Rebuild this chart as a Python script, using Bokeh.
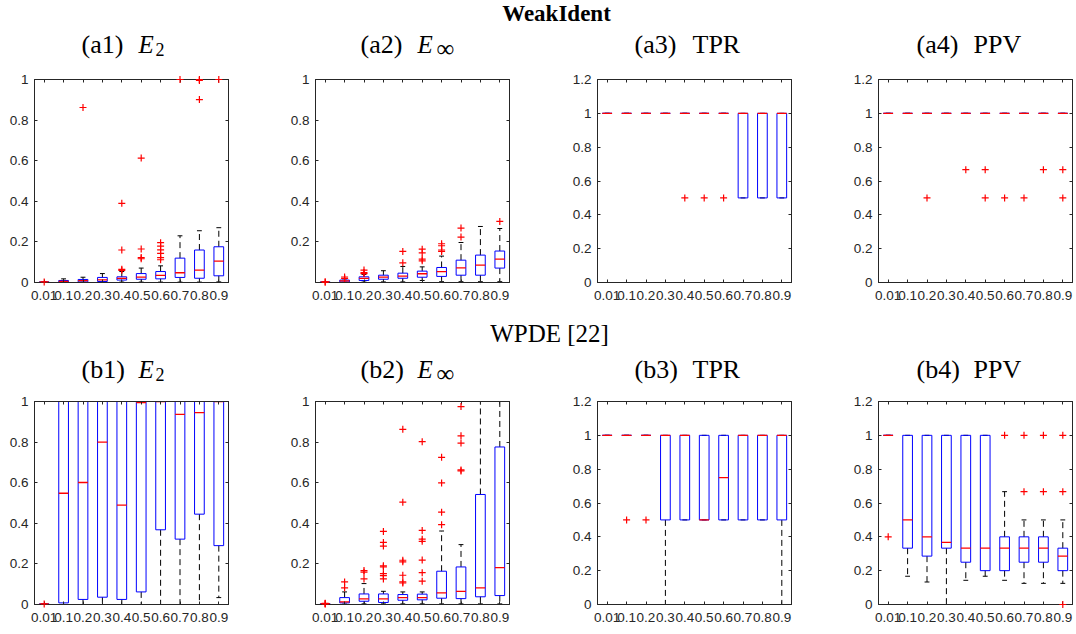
from bokeh.plotting import figure
from bokeh.layouts import column, row
from bokeh.models import Range1d, FixedTicker, LinearAxis, NumeralTickFormatter, ColumnDataSource
from bokeh.transform import dodge
from bokeh.core.properties import value
from bokeh.embed import file_html
from bokeh.resources import INLINE

# ---------------- data ----------------
NOISE_LABELS = ["0.01", "0.1", "0.2", "0.3", "0.4", "0.5", "0.6", "0.7", "0.8", "0.9"]
NOISE_POS = [1, 2, 3, 4, 5, 6, 7, 8, 9, 10]

Y_TICKS_E2 = [0, 0.2, 0.4, 0.6, 0.8, 1]
Y_TICKS_EINF = [0.2, 0.4, 0.6, 0.8, 1]
Y_TICKS_RATE = [0, 0.2, 0.4, 0.6, 0.8, 1, 1.2]

# (a1) WeakIdent E2
A1_Q1 = [0.001, 0.003, 0.003, 0.005, 0.012, 0.016, 0.018, 0.025, 0.021, 0.033]
A1_MED = [0.002, 0.006, 0.009, 0.013, 0.020, 0.026, 0.035, 0.048, 0.061, 0.105]
A1_Q3 = [0.003, 0.010, 0.015, 0.025, 0.028, 0.044, 0.054, 0.120, 0.160, 0.176]
A1_WLO = [0.001, 0.001, 0.001, 0.001, 0.002, 0.002, 0.002, 0.002, 0.002, 0.003]
A1_WHI = [0.004, 0.018, 0.026, 0.044, 0.054, 0.071, 0.082, 0.230, 0.255, 0.270]
A1_OUT = [[0.003], [], [0.862], [], [0.39, 0.16, 0.065, 0.06], [0.613, 0.165, 0.123, 0.117],
          [0.196, 0.179, 0.161, 0.143, 0.123, 0.112], [1.0], [1.0, 0.995, 0.901], [1.0]]

# (a2) WeakIdent Einf
A2_Q1 = [0.001, 0.003, 0.010, 0.016, 0.021, 0.026, 0.030, 0.036, 0.036, 0.071]
A2_MED = [0.002, 0.008, 0.020, 0.026, 0.031, 0.043, 0.054, 0.072, 0.086, 0.115]
A2_Q3 = [0.003, 0.012, 0.028, 0.036, 0.046, 0.056, 0.074, 0.110, 0.135, 0.155]
A2_WLO = [0.001, 0.001, 0.002, 0.003, 0.003, 0.010, 0.004, 0.004, 0.004, 0.004]
A2_WHI = [0.004, 0.018, 0.040, 0.058, 0.079, 0.077, 0.130, 0.197, 0.276, 0.266]
A2_OUT = [[0.003, 0.002], [0.027, 0.02], [0.061, 0.049, 0.044], [], [0.153, 0.097],
          [0.164, 0.146, 0.115, 0.107], [0.191, 0.181, 0.16, 0.153], [0.268, 0.224], [], [0.301]]

# (a3) WeakIdent TPR
A3_Q1 = [1, 1, 1, 1, 1, 1, 1, 0.5, 0.5, 0.5]
A3_MED = [1, 1, 1, 1, 1, 1, 1, 1, 1, 1]
A3_Q3 = [1, 1, 1, 1, 1, 1, 1, 1, 1, 1]
A3_WLO = [1, 1, 1, 1, 1, 1, 1, 0.5, 0.5, 0.5]
A3_WHI = [1, 1, 1, 1, 1, 1, 1, 1, 1, 1]
A3_OUT = [[], [], [], [], [0.5], [0.5], [0.5], [], [], []]

# (a4) WeakIdent PPV
A4_Q1 = [1, 1, 1, 1, 1, 1, 1, 1, 1, 1]
A4_MED = [1, 1, 1, 1, 1, 1, 1, 1, 1, 1]
A4_Q3 = [1, 1, 1, 1, 1, 1, 1, 1, 1, 1]
A4_WLO = [1, 1, 1, 1, 1, 1, 1, 1, 1, 1]
A4_WHI = [1, 1, 1, 1, 1, 1, 1, 1, 1, 1]
A4_OUT = [[], [], [0.5], [], [0.667], [0.667, 0.5], [0.5], [0.5], [0.667], [0.667, 0.5]]

# (b1) WPDE E2
B1_Q1 = [0.001, 0.008, 0.025, 0.036, 0.025, 0.062, 0.368, 0.322, 0.445, 0.290]
B1_MED = [0.002, 0.548, 0.601, 0.800, 0.490, 0.995, 1.0, 0.937, 0.945, 1.0]
B1_Q3 = [0.003, 1, 1, 1, 1, 1, 1, 1, 1, 1]
B1_WLO = [0.001, 0, 0, 0, 0, 0, 0, 0, 0, 0.034]
B1_WHI = [0.003, 1, 1, 1, 1, 1, 1, 1, 1, 1]
B1_OUT = [[0.003], [], [], [], [], [], [], [], [], []]

# (b2) WPDE Einf
B2_Q1 = [0.002, 0.008, 0.016, 0.010, 0.021, 0.023, 0.031, 0.029, 0.038, 0.044]
B2_MED = [0.003, 0.013, 0.028, 0.028, 0.034, 0.034, 0.057, 0.065, 0.082, 0.182]
B2_Q3 = [0.004, 0.034, 0.052, 0.052, 0.049, 0.051, 0.164, 0.185, 0.542, 0.776]
B2_WLO = [0.001, 0.002, 0.003, 0.003, 0.003, 0.003, 0.003, 0.003, 0.003, 0.003]
B2_WHI = [0.005, 0.062, 0.103, 0.065, 0.062, 0.062, 0.362, 0.295, 1.0, 1.0]
B2_OUT = [[0.006, 0.004, 0.003], [0.111, 0.082], [0.167, 0.159, 0.126],
          [0.36, 0.306, 0.288, 0.191, 0.185, 0.152, 0.142, 0.126],
          [0.863, 0.504, 0.218, 0.21, 0.144, 0.111, 0.106],
          [0.802, 0.365, 0.322, 0.311, 0.219, 0.157, 0.115],
          [0.725, 0.599, 0.455, 0.393], [0.975, 0.831, 0.795, 0.663, 0.658], [], []]

# (b3) WPDE TPR
B3_Q1 = [1, 1, 1, 0.5, 0.5, 0.5, 0.5, 0.5, 0.5, 0.5]
B3_MED = [1, 1, 1, 1, 1, 0.5, 0.75, 1, 1, 1]
B3_Q3 = [1, 1, 1, 1, 1, 1, 1, 1, 1, 1]
B3_WLO = [1, 1, 1, 0, 0.5, 0.5, 0.5, 0.5, 0.5, 0]
B3_WHI = [1, 1, 1, 1, 1, 1, 1, 1, 1, 1]
B3_OUT = [[], [0.5], [0.5], [], [], [], [], [], [], []]

# (b4) WPDE PPV
B4_Q1 = [1, 0.333, 0.286, 0.333, 0.25, 0.2, 0.2, 0.25, 0.25, 0.2]
B4_MED = [1, 0.5, 0.4, 0.367, 0.333, 0.333, 0.333, 0.333, 0.333, 0.286]
B4_Q3 = [1, 1, 1, 1, 1, 1, 0.4, 0.4, 0.4, 0.333]
B4_WLO = [1, 0.167, 0.133, 0, 0.143, 0.167, 0.143, 0.125, 0.125, 0.125]
B4_WHI = [1, 1, 1, 1, 1, 1, 0.667, 0.5, 0.5, 0.5]
B4_OUT = [[0.4], [], [], [], [], [], [1.0], [1.0, 0.667], [1.0, 0.667], [1.0, 0.667, 0.0]]

SECTION_TITLES = ["WeakIdent", "WPDE [22]"]
TAGS_A = ["(a1)", "(a2)", "(a3)", "(a4)"]
TAGS_B = ["(b1)", "(b2)", "(b3)", "(b4)"]
SYMBOLS = ["E", "E", "TPR", "PPV"]
SUBSCRIPTS = ["2", "\u221e"]

# ---------------- style ----------------
AXIS_COLOR = "#262626"
TICK_FONT = "Liberation Sans"
TITLE_FONT = "Liberation Serif"
FRAME_W = 194
FRAME_H = 203


def style_axis(ax, show_labels, standoff):
    ax.major_tick_in = 3
    ax.major_tick_out = 0
    ax.minor_tick_line_color = None
    ax.axis_line_color = AXIS_COLOR
    ax.major_tick_line_color = AXIS_COLOR
    ax.major_label_standoff = standoff
    if show_labels:
        ax.major_label_text_font = TICK_FONT
        ax.major_label_text_font_size = "13.5px"
        ax.major_label_text_color = AXIS_COLOR
    else:
        ax.major_label_text_font_size = "0px"
        ax.major_label_text_color = None


def make_panel(q1, med, q3, wlo, whi, outliers, y_top, y_ticks, left, right):
    p = figure(width=left + FRAME_W + right, height=10 + FRAME_H + 30,
               x_range=Range1d(0.5, 10.5), y_range=Range1d(0, y_top),
               output_backend="svg", toolbar_location=None,
               min_border_left=left, min_border_right=right,
               min_border_top=10, min_border_bottom=30)
    p.grid.visible = False
    p.outline_line_color = AXIS_COLOR
    p.background_fill_color = "white"
    p.border_fill_color = "white"
    p.xaxis.ticker = FixedTicker(ticks=NOISE_POS)
    p.xaxis.major_label_overrides = {pos: lab for pos, lab in zip(NOISE_POS, NOISE_LABELS)}
    p.yaxis.ticker = FixedTicker(ticks=y_ticks)
    p.yaxis.formatter = NumeralTickFormatter(format="0.[0]")
    style_axis(p.xaxis[0], True, 8)
    style_axis(p.yaxis[0], True, 6)
    top_ax = LinearAxis(ticker=FixedTicker(ticks=NOISE_POS))
    right_ax = LinearAxis(ticker=FixedTicker(ticks=y_ticks))
    style_axis(top_ax, False, 0)
    style_axis(right_ax, False, 0)
    p.add_layout(top_ax, "above")
    p.add_layout(right_ax, "right")

    src = ColumnDataSource(dict(x=NOISE_POS, q1=q1, med=med, q3=q3, wlo=wlo, whi=whi))
    p.segment(x0="x", y0="q3", x1="x", y1="whi", source=src,
              line_color="black", line_dash="6 4", line_width=1)
    p.segment(x0="x", y0="q1", x1="x", y1="wlo", source=src,
              line_color="black", line_dash="6 4", line_width=1)
    p.segment(x0=dodge("x", -0.125), y0="whi", x1=dodge("x", 0.125), y1="whi",
              source=src, line_color="black", line_width=1)
    p.segment(x0=dodge("x", -0.125), y0="wlo", x1=dodge("x", 0.125), y1="wlo",
              source=src, line_color="black", line_width=1)
    p.vbar(x="x", width=0.5, bottom="q1", top="q3", source=src,
           fill_color=None, line_color="#0000ff", line_width=1)
    p.segment(x0=dodge("x", -0.25), y0="med", x1=dodge("x", 0.25), y1="med",
              source=src, line_color="#ff0000", line_width=1.3)
    ox = [pos for pos, vals in zip(NOISE_POS, outliers) for v in vals]
    oy = [v for vals in outliers for v in vals]
    p.scatter(ox, oy, marker="cross", size=7, line_color="#ff0000", line_width=1.2,
              level="overlay")
    return p


def make_header(height, section, sec_x, sec_y, sec_size, tags, base_y):
    h = figure(width=1076, height=height, x_range=Range1d(0, 1076), y_range=Range1d(height, 0),
               output_backend="svg", toolbar_location=None, x_axis_type=None, y_axis_type=None,
               min_border_left=0, min_border_right=0, min_border_top=0, min_border_bottom=0)
    h.outline_line_color = None
    h.grid.visible = False
    common = dict(text_font=value(TITLE_FONT), text_baseline="alphabetic", text_color="black")
    h.text(x=[sec_x], y=[sec_y], text=[section],
           text_font_style="bold" if section == "WeakIdent" else "normal",
           text_font_size=sec_size, text_align="center", **common)
    h.text(x=[81, 360, 634, 916], y=[base_y - 8] * 4, text=tags,
           text_font_size="26px", text_align="left", **common)
    h.text(x=[138, 417], y=[base_y - 8] * 2, text=SYMBOLS[:2], text_font_style="italic",
           text_font_size="25px", text_align="left", **common)
    h.text(x=[692, 973], y=[base_y - 8] * 2, text=SYMBOLS[2:],
           text_font_size="26px", text_align="left", **common)
    h.text(x=[155], y=[base_y - 3], text=[SUBSCRIPTS[0]],
           text_font_size="18px", text_align="left", **common)
    h.text(x=[436], y=[base_y - 4], text=[SUBSCRIPTS[1]],
           text_font_size="25px", text_align="left", **common)
    return h


LEFTS = [34, 47, 48, 47]
RIGHTS = [40, 40, 40, 4]

row_a = row([
    make_panel(A1_Q1, A1_MED, A1_Q3, A1_WLO, A1_WHI, A1_OUT, 1, Y_TICKS_E2, LEFTS[0], RIGHTS[0]),
    make_panel(A2_Q1, A2_MED, A2_Q3, A2_WLO, A2_WHI, A2_OUT, 1, Y_TICKS_EINF, LEFTS[1], RIGHTS[1]),
    make_panel(A3_Q1, A3_MED, A3_Q3, A3_WLO, A3_WHI, A3_OUT, 1.2, Y_TICKS_RATE, LEFTS[2], RIGHTS[2]),
    make_panel(A4_Q1, A4_MED, A4_Q3, A4_WLO, A4_WHI, A4_OUT, 1.2, Y_TICKS_RATE, LEFTS[3], RIGHTS[3]),
], spacing=0)

row_b = row([
    make_panel(B1_Q1, B1_MED, B1_Q3, B1_WLO, B1_WHI, B1_OUT, 1, Y_TICKS_E2, LEFTS[0], RIGHTS[0]),
    make_panel(B2_Q1, B2_MED, B2_Q3, B2_WLO, B2_WHI, B2_OUT, 1, Y_TICKS_EINF, LEFTS[1], RIGHTS[1]),
    make_panel(B3_Q1, B3_MED, B3_Q3, B3_WLO, B3_WHI, B3_OUT, 1.2, Y_TICKS_RATE, LEFTS[2], RIGHTS[2]),
    make_panel(B4_Q1, B4_MED, B4_Q3, B4_WLO, B4_WHI, B4_OUT, 1.2, Y_TICKS_RATE, LEFTS[3], RIGHTS[3]),
], spacing=0)

header_a = make_header(69, SECTION_TITLES[0], 556, 13, "23px", TAGS_A, 52)
header_b = make_header(79, SECTION_TITLES[1], 549, 21, "25px", TAGS_B, 65)

layout = column([header_a, row_a, header_b, row_b], spacing=0)

open("out.html", "w").write(file_html(layout, INLINE))
